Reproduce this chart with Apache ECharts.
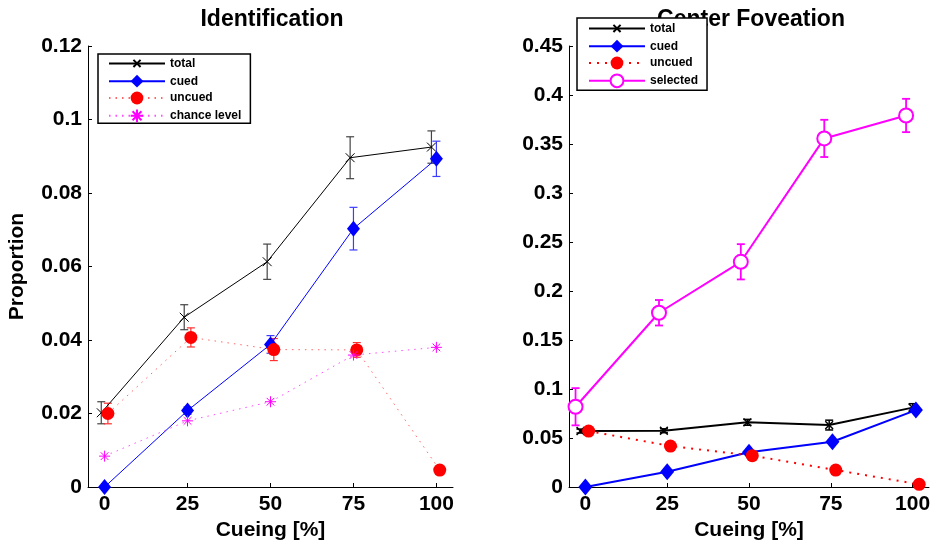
<!DOCTYPE html>
<html>
<head>
<meta charset="utf-8">
<script src="https://cdn.jsdelivr.net/npm/echarts@6/dist/echarts.min.js"></script>
<style>html,body{margin:0;padding:0;background:#fff}#c{width:939px;height:546px}</style>
</head>
<body>
<div id="c"></div>
<script>
// ---------- Data: Identification (left panel) ----------
const idTotalX   = [-1, 24, 49, 74, 98.5];
const idTotal    = [0.0202, 0.0462, 0.0613, 0.0896, 0.0925];
const idTotalErr = [0.003, 0.0034, 0.0048, 0.0057, 0.0044];
const idCuedX    = [0, 25, 50, 75, 100];
const idCued     = [0, 0.0208, 0.0388, 0.0703, 0.0893];
const idCuedErr  = [0, 0.001, 0.0024, 0.0058, 0.0048];
const idUncuedX  = [1, 26, 51, 76, 101];
const idUncued   = [0.0200, 0.0407, 0.0374, 0.0373, 0.0046];
const idUncuedErr= [0.0028, 0.0026, 0.003, 0.002, 0];
const idChanceX  = [0, 25, 50, 75, 100];
const idChance   = [0.0084, 0.0180, 0.0232, 0.0359, 0.0380];

// ---------- Data: Center Foveation (right panel) ----------
const cfTotalX   = [-1.5, 24, 49.5, 74.5, 100];
const cfTotal    = [0.0571, 0.0574, 0.0660, 0.0632, 0.0810];
const cfTotalErr = [0.002, 0.002, 0.003, 0.005, 0.004];
const cfCuedX    = [0, 25, 50, 75.5, 101];
const cfCued     = [0, 0.0156, 0.0354, 0.0462, 0.0785];
const cfUncuedX  = [1, 26, 51, 76.5, 102];
const cfUncued   = [0.0571, 0.0418, 0.0320, 0.0173, 0.0027];
const cfSelX     = [-3, 22.5, 47.5, 73, 98];
const cfSel      = [0.0819, 0.1778, 0.2298, 0.3557, 0.3791];
const cfSelErr   = [0.019, 0.013, 0.018, 0.019, 0.017];

const xTicks = [0, 25, 50, 75, 100];
const titles = ['Identification', 'Center Foveation'];
const legendLeft  = ['total', 'cued', 'uncued', 'chance level'];
const legendRight = ['total ', 'cued ', 'uncued ', 'selected'];

// ---------- helpers ----------
const FONT = 'Liberation Sans, Arial, sans-serif';
const pts = (xs, ys) => xs.map((x, i) => [x, ys[i]]);
const errPts = (xs, ys, es) => xs.map((x, i) => [x, ys[i], es[i]]);
// padded bounds so the cross is drawn smaller than its symbol box
const X_SYM = 'path://M-4,-4M0,0L10,10M10,0L0,10M14,14';
const STAR_SYM = 'path://M5,0L5,10M0,5L10,5M1.5,1.5L8.5,8.5M8.5,1.5L1.5,8.5';

function errSeries(name, xs, ys, es, color, lw, cap, gi) {
  return {
    type: 'custom', name: name, xAxisIndex: gi, yAxisIndex: gi, z: 1,
    encode: { x: 0, y: 1 },
    data: errPts(xs, ys, es),
    renderItem: function (params, api) {
      const x = api.value(0), y = api.value(1), e = api.value(2);
      if (!e) return null;
      const a = api.coord([x, y + e]), b = api.coord([x, y - e]);
      const st = { stroke: color, lineWidth: lw };
      return { type: 'group', children: [
        { type: 'line', shape: { x1: a[0], y1: a[1], x2: b[0], y2: b[1] }, style: st },
        { type: 'line', shape: { x1: a[0] - cap, y1: a[1], x2: a[0] + cap, y2: a[1] }, style: st },
        { type: 'line', shape: { x1: b[0] - cap, y1: b[1], x2: b[0] + cap, y2: b[1] }, style: st }
      ]};
    }
  };
}

function xAxis(gi) {
  return {
    type: 'value', gridIndex: gi, min: -5, max: 105, interval: 25,
    name: 'Cueing [%]', nameLocation: 'middle', nameGap: 32,
    nameTextStyle: { fontFamily: FONT, fontWeight: 'bold', fontSize: 21, color: '#000' },
    axisLine: { onZero: false, lineStyle: { color: '#000', width: 1 } },
    axisTick: { inside: true, length: 4, lineStyle: { color: '#000' }, customValues: xTicks },
    axisLabel: { margin: 7, fontFamily: FONT, fontWeight: 'bold', fontSize: 21, color: '#000',
                 customValues: xTicks, showMinLabel: true, showMaxLabel: true },
    splitLine: { show: false }
  };
}
function yAxis(gi, max, interval, withName) {
  return {
    type: 'value', gridIndex: gi, min: 0, max: max, interval: interval,
    name: withName ? 'Proportion' : '', nameLocation: 'middle', nameGap: 60,
    nameTextStyle: { fontFamily: FONT, fontWeight: 'bold', fontSize: 21, color: '#000' },
    axisLine: { show: true, onZero: false, lineStyle: { color: '#000', width: 1 } },
    axisTick: { show: true, inside: true, length: 4, lineStyle: { color: '#000' } },
    axisLabel: { margin: 6, fontFamily: FONT, fontWeight: 'bold', fontSize: 21, color: '#000' },
    splitLine: { show: false }
  };
}
function legend(data, left, top, padding) {
  return {
    data: data, orient: 'vertical', left: left, top: top, z: 10,
    backgroundColor: '#fff', borderColor: '#000', borderWidth: 1.5, borderRadius: 0,
    padding: padding, itemWidth: 56, itemHeight: 16, itemGap: 4,
    selectedMode: false,
    formatter: n => n.trim(),
    textStyle: { fontFamily: FONT, fontWeight: 'bold', fontSize: 12, color: '#000' }
  };
}

const option = {
  backgroundColor: '#fff',
  animation: false,
  title: [
    { text: titles[0], left: 267, top: 3, textAlign: 'center',
      textStyle: { fontFamily: FONT, fontWeight: 'bold', fontSize: 23, color: '#000' } },
    { text: titles[1], left: 746, top: 3, textAlign: 'center',
      textStyle: { fontFamily: FONT, fontWeight: 'bold', fontSize: 23, color: '#000' } }
  ],
  legend: [
    legend(legendLeft, 98, 54, [2, 9, 0, 10]),
    legend(legendRight, 577, 18, [3, 9, 2, 11])
  ],
  grid: [
    { left: 88, top: 46, width: 365, height: 441, containLabel: false },
    { left: 569, top: 46, width: 360, height: 441, containLabel: false }
  ],
  xAxis: [xAxis(0), xAxis(1)],
  yAxis: [yAxis(0, 0.12, 0.02, true), yAxis(1, 0.45, 0.05, false)],
  series: [
    // ---- left panel ----
    errSeries('e1', idTotalX, idTotal, idTotalErr, '#444', 1.2, 4, 0),
    errSeries('e2', idCuedX, idCued, idCuedErr, '#3d3dff', 1.2, 4, 0),
    errSeries('e3', idUncuedX, idUncued, idUncuedErr, '#ff3030', 1.2, 4, 0),
    { type: 'line', name: 'total', xAxisIndex: 0, yAxisIndex: 0, z: 3,
      data: pts(idTotalX, idTotal), symbol: X_SYM, symbolSize: 16,
      itemStyle: { color: 'transparent', borderColor: '#000', borderWidth: 1 },
      lineStyle: { color: '#000', width: 1 } },
    { type: 'line', name: 'cued', xAxisIndex: 0, yAxisIndex: 0, z: 3,
      data: pts(idCuedX, idCued), symbol: 'diamond', symbolSize: [13, 16],
      itemStyle: { color: '#0000ff' },
      lineStyle: { color: '#0000ff', width: 1 } },
    { type: 'line', name: 'uncued', xAxisIndex: 0, yAxisIndex: 0, z: 3,
      data: pts(idUncuedX, idUncued), symbol: 'circle', symbolSize: 13,
      itemStyle: { color: '#ff0000' },
      lineStyle: { color: '#ff0000', width: 1, type: [1.5, 5], opacity: 0.6 } },
    { type: 'line', name: 'chance level', xAxisIndex: 0, yAxisIndex: 0, z: 3,
      data: pts(idChanceX, idChance), symbol: STAR_SYM, symbolSize: 11,
      itemStyle: { color: 'transparent', borderColor: '#ff00ff', borderWidth: 1 },
      lineStyle: { color: '#ff00ff', width: 1, type: [1.5, 5], opacity: 0.7 } },
    // ---- right panel ----
    errSeries('e4', cfTotalX, cfTotal, cfTotalErr, '#000', 1.5, 4, 1),
    errSeries('e5', cfSelX, cfSel, cfSelErr, '#ff00ff', 1.8, 4, 1),
    { type: 'line', name: 'total ', xAxisIndex: 1, yAxisIndex: 1, z: 3,
      data: pts(cfTotalX, cfTotal), symbol: X_SYM, symbolSize: 14,
      itemStyle: { color: 'transparent', borderColor: '#000', borderWidth: 1.5 },
      lineStyle: { color: '#000', width: 2 } },
    { type: 'line', name: 'cued ', xAxisIndex: 1, yAxisIndex: 1, z: 3,
      data: pts(cfCuedX, cfCued), symbol: 'diamond', symbolSize: [14, 17],
      itemStyle: { color: '#0000ff' },
      lineStyle: { color: '#0000ff', width: 2 } },
    { type: 'line', name: 'uncued ', xAxisIndex: 1, yAxisIndex: 1, z: 3,
      data: pts(cfUncuedX, cfUncued), symbol: 'circle', symbolSize: 13,
      itemStyle: { color: '#ff0000' },
      lineStyle: { color: '#ff0000', width: 2, type: [2, 6] } },
    { type: 'line', name: 'selected', xAxisIndex: 1, yAxisIndex: 1, z: 3,
      data: pts(cfSelX, cfSel), symbol: 'emptyCircle', symbolSize: 14,
      itemStyle: { color: '#ff00ff', borderColor: '#ff00ff', borderWidth: 1.5 },
      lineStyle: { color: '#ff00ff', width: 2 } }
  ]
};

const chart = echarts.init(document.getElementById('c'), null, { renderer: 'canvas' });
chart.setOption(option);
</script>
</body>
</html>
